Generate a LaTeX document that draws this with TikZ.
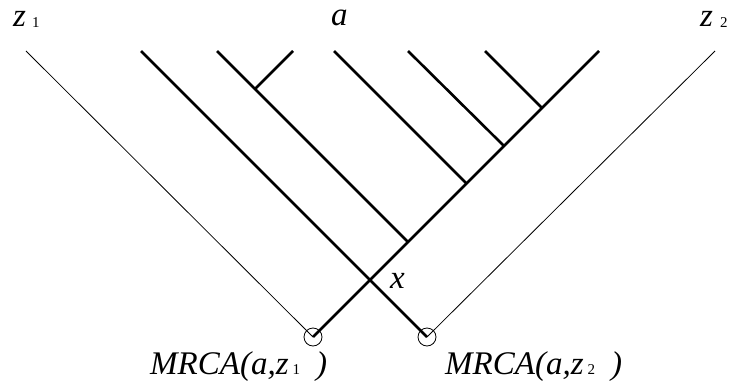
\documentclass[tikz,border=0pt]{standalone}
\usepackage{fontspec}
\setmainfont{Liberation Serif}
\newcommand{\subnum}[1]{{\fontsize{15}{17}\selectfont\upshape #1}}
\begin{document}
\begin{tikzpicture}[x=1pt,y=-1pt,
  thickline/.style={line width=2.6pt},
  thinline/.style={line width=0.8pt},
  lbl/.style={font=\fontsize{33}{35}\selectfont\itshape, inner sep=0, anchor=base west},
  subs/.style={font=\fontsize{15}{17}\selectfont, inner sep=0, anchor=base west},
  mrca/.style={circle, draw, minimum size=18pt, inner sep=0, line width=0.8pt}]
\useasboundingbox (0,0) rectangle (730,385);
% leaf tops
\coordinate (t1) at (26,51);
\coordinate (t2) at (141,51);
\coordinate (t3) at (217,51);
\coordinate (t4) at (293,51);
\coordinate (t5) at (334,51);
\coordinate (t6) at (408,51);
\coordinate (t7) at (485,51);
\coordinate (t8) at (599,51);
\coordinate (t9) at (715,51);
% joints
\coordinate (j4) at (255,89);
\coordinate (j3) at (408,242);
\coordinate (j5) at (466.5,183.5);
\coordinate (j6) at (503.5,145.5);
\coordinate (j7) at (542,108);
% MRCA circles
\node[mrca] (m1) at (313,337) {};
\node[mrca] (m2) at (427,337) {};
% thin lines
\draw[thinline] (t1) -- (m1.center);
\draw[thinline] (t9) -- (m2.center);
% thick lines
\draw[thickline] (t2) -- (m2.center);
\draw[thickline] (t8) -- (m1.center);
\draw[thickline] (t3) -- (j3);
\draw[thickline] (t4) -- (j4);
\draw[thickline] (t5) -- (j5);
\draw[thickline] (t6) -- (j6);
\draw[thickline] (t7) -- (j7);
% labels
\node[lbl] (lz1) at (13,27) {z};
\node[subs] (lz1s) at (32,28) {1};
\node[lbl] (la) at (331,26) {a};
\node[lbl] (lz2) at (700,27) {z};
\node[subs] (lz2s) at (720,28) {2};
\node[lbl] (lx) at (390,288) {x};
\node[lbl] (l1) at (150,374) {MRCA(a,z\hspace{4pt}\subnum{1}\hspace{16pt})};
\node[lbl] (l2) at (445,374) {MRCA(a,z\hspace{4pt}\subnum{2}\hspace{16pt})};
\end{tikzpicture}
\end{document}
